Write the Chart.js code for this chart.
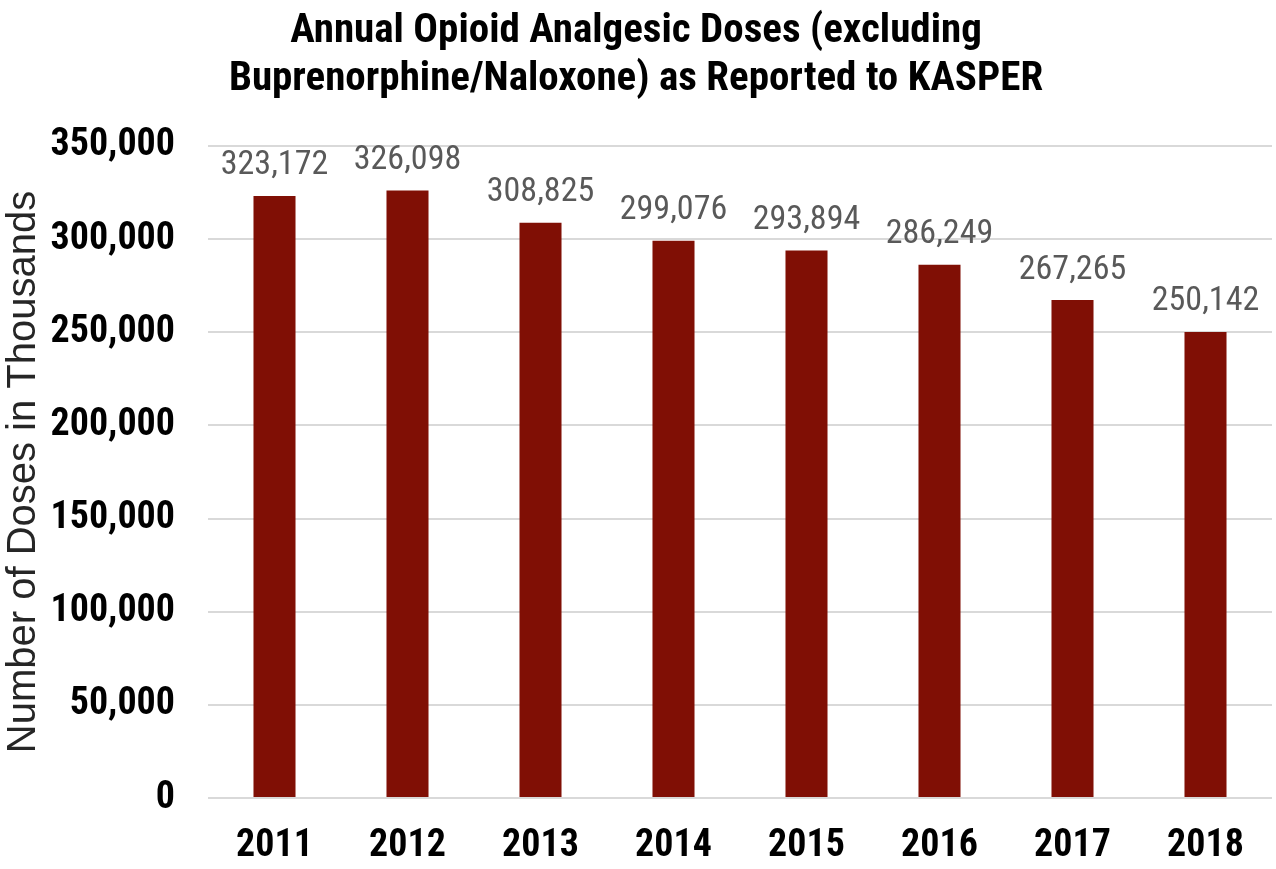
<!DOCTYPE html>
<html>
<head>
<meta charset="utf-8">
<title>Annual Opioid Analgesic Doses</title>
<script src="https://cdn.jsdelivr.net/npm/chart.js@4/dist/chart.umd.min.js"></script>
<style>
  html, body { margin: 0; padding: 0; background: #fff; }
  #wrap { width: 1276px; height: 869px; position: relative; }
</style>
</head>
<body>
<div id="wrap"><canvas id="chartCanvas"></canvas></div>
<script>
// Chart data
const years = ['2011', '2012', '2013', '2014', '2015', '2016', '2017', '2018'];
const doses = [323172, 326098, 308825, 299076, 293894, 286249, 267265, 250142];
const titleLines = ['Annual Opioid Analgesic Doses (excluding', 'Buprenorphine/Naloxone) as Reported to KASPER'];
const yAxisTitle = 'Number of Doses in Thousands';

const narrow = '"Liberation Sans Narrow", "Arial Narrow", "Roboto Condensed", "Liberation Sans", sans-serif';

// Simple plugin to write the value above each bar
const valueLabels = {
    id: 'valueLabels',
    afterDatasetsDraw(chart) {
        const ctx = chart.ctx;
        const meta = chart.getDatasetMeta(0);
        ctx.save();
        ctx.font = '34px ' + narrow;
        ctx.fillStyle = '#595959';
        ctx.textAlign = 'center';
        ctx.textBaseline = 'bottom';
        meta.data.forEach(function(bar, i) {
            ctx.fillText(doses[i].toLocaleString('en-US'), bar.x, bar.y - 13);
        });
        ctx.restore();
    }
};

var ctx = document.getElementById('chartCanvas').getContext('2d');
var dosesChart = new Chart(ctx, {
    type: 'bar',
    data: {
        labels: years,
        datasets: [{
            data: doses,
            backgroundColor: '#800f05',
            borderWidth: 0,
            barPercentage: 0.316,
            categoryPercentage: 1
        }]
    },
    options: {
        responsive: true,
        maintainAspectRatio: false,
        animation: false,
        layout: { padding: { left: 0, right: 4, top: 0, bottom: 0 } },
        plugins: {
            legend: { display: false },
            tooltip: { enabled: false },
            title: {
                display: true,
                text: titleLines,
                color: '#000',
                font: { family: narrow, size: 41, weight: 'bold', lineHeight: 1.17 },
                padding: { top: 8, bottom: 42 }
            }
        },
        scales: {
            x: {
                grid: { display: false, drawTicks: false },
                border: { display: false },
                ticks: {
                    color: '#000',
                    font: { family: narrow, size: 38, weight: 'bold' },
                    padding: 26
                },
                afterFit: function(scale) { scale.height = 71; }
            },
            y: {
                min: 0,
                max: 350000,
                grid: { color: '#d9d9d9', lineWidth: 2, drawTicks: false },
                border: { display: false },
                ticks: {
                    stepSize: 50000,
                    color: '#000',
                    font: { family: narrow, size: 38, weight: 'bold' },
                    padding: 33,
                    callback: function(v) { return v.toLocaleString('en-US'); }
                },
                title: {
                    display: true,
                    text: yAxisTitle,
                    color: '#262626',
                    font: { family: '"Liberation Sans", Arial, sans-serif', size: 40 },
                    padding: 0
                },
                afterFit: function(scale) { scale.width = 208; }
            }
        }
    },
    plugins: [valueLabels]
});
</script>
</body>
</html>
